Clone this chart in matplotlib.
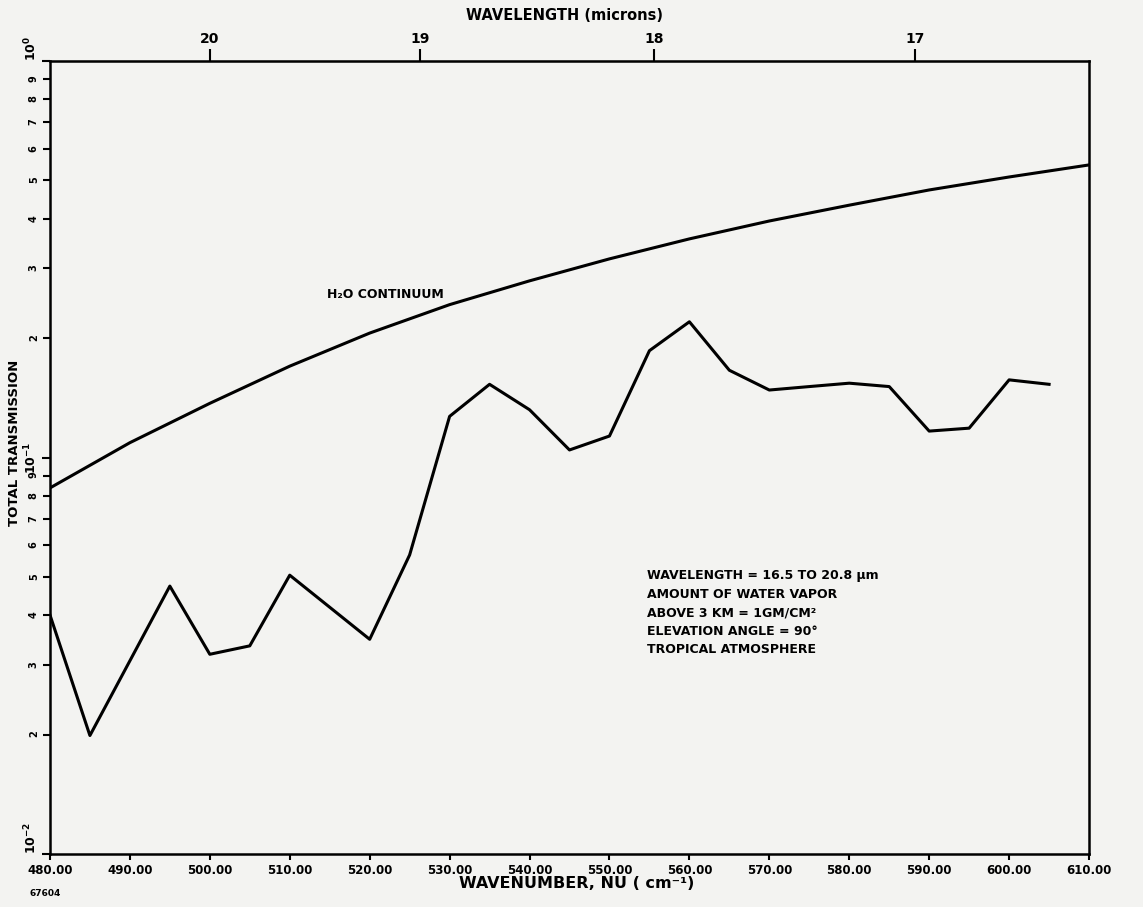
import matplotlib.pyplot as plt
import matplotlib.ticker as ticker
import numpy as np

# Total transmission along the path (wavenumber in cm-1)
nu_total = [480, 485, 495, 500, 505, 510, 520, 525, 530, 535, 540, 545,
            550, 555, 560, 565, 570, 575, 580, 585, 590, 595, 600, 605]
trans_total = [0.0401, 0.0199, 0.0474, 0.0319, 0.0335, 0.0505, 0.0348, 0.0568,
               0.127, 0.153, 0.132, 0.1045, 0.1133, 0.186, 0.220, 0.166,
               0.148, 0.151, 0.154, 0.151, 0.1166, 0.1186, 0.157, 0.153]

# H2O continuum transmission
nu_cont = [480, 490, 500, 510, 520, 530, 540, 550, 560, 570, 580, 590, 600, 610]
trans_cont = [0.0838, 0.109, 0.137, 0.170, 0.206, 0.243, 0.279, 0.317,
              0.356, 0.395, 0.433, 0.473, 0.510, 0.547]

wavelength_ticks = [20, 19, 18, 17]

info_lines = [
    "WAVELENGTH = 16.5 TO 20.8 \u03bcm",
    "AMOUNT OF WATER VAPOR",
    "ABOVE 3 KM = 1GM/CM\u00b2",
    "ELEVATION ANGLE = 90\u00b0",
    "TROPICAL ATMOSPHERE",
]

plt.rcParams['font.family'] = ['DejaVu Sans']
plt.rcParams['font.weight'] = 'bold'
paper = '#f3f3f1'

fig = plt.figure(figsize=(11.43, 9.07), dpi=100, facecolor=paper)
ax = fig.add_axes([0.0437, 0.0584, 0.9091, 0.8743])
ax.set_facecolor(paper)

ax.plot(nu_cont, trans_cont, color='black', linewidth=2.2)
ax.plot(nu_total, trans_total, color='black', linewidth=2.2)

ax.set_yscale('log')
ax.set_xlim(480, 610)
ax.set_ylim(1e-2, 1e0)

# bottom axis: wavenumber
ax.set_xticks(np.arange(480, 611, 10))
ax.xaxis.set_major_formatter(ticker.FormatStrFormatter('%.2f'))
ax.tick_params(axis='x', which='major', direction='out', length=4, width=1.5,
               pad=3, labelsize=8.5)

# left axis: log decades with digit labels on the minor ticks
ax.yaxis.set_major_locator(ticker.FixedLocator([1e-2, 1e-1, 1e0]))
ax.yaxis.set_minor_locator(ticker.LogLocator(base=10, subs=range(2, 10), numticks=10))

def decade_label(v, pos):
    return r'$\mathbf{10^{%d}}$' % int(round(np.log10(v)))

def digit_label(v, pos):
    d = v / 10 ** np.floor(np.log10(v) + 1e-9)
    return '%d' % int(round(d))

ax.yaxis.set_major_formatter(ticker.FuncFormatter(decade_label))
ax.yaxis.set_minor_formatter(ticker.FuncFormatter(digit_label))
ax.tick_params(axis='y', which='major', direction='out', length=6, width=1.5,
               pad=2, labelsize=9, labelrotation=90)
ax.tick_params(axis='y', which='minor', direction='out', length=5, width=1.5,
               pad=3, labelsize=7, labelrotation=90)

for side in ax.spines.values():
    side.set_linewidth(1.8)

# top axis: wavelength in microns
top = ax.secondary_xaxis('top', functions=(lambda x: 1e4 / x, lambda x: 1e4 / x))
top.set_xticks(wavelength_ticks)
top.xaxis.set_major_formatter(ticker.FormatStrFormatter('%d'))
top.xaxis.set_minor_locator(ticker.NullLocator())
top.tick_params(axis='x', direction='out', length=9, width=1.5, pad=2, labelsize=10)

# labels
fig.text(565 / 1143, 1 - 16 / 907, 'WAVELENGTH (microns)', ha='center', va='center',
         fontsize=10.5, fontweight='bold')
fig.text(577 / 1143, 1 - 884 / 907, 'WAVENUMBER, NU ( cm\u207b\u00b9)', ha='center',
         va='center', fontsize=11.5, fontweight='bold')
fig.text(15 / 1143, 1 - 443 / 907, 'TOTAL TRANSMISSION', ha='center', va='center',
         rotation=90, fontsize=9.5, fontweight='bold')
fig.text(45 / 1143, 1 - 894 / 907, '67604', ha='center', va='center',
         fontsize=6.5, fontweight='bold')

ax.text(514.7, 0.258, 'H\u2082O CONTINUUM', ha='left', va='center',
        fontsize=9, fontweight='bold')
ax.text(0.5746, 0.359, '\n'.join(info_lines), transform=ax.transAxes,
        ha='left', va='top', fontsize=9, fontweight='bold', linespacing=1.55)

# decade labels at the ends of the axis sit above their ticks
fig.canvas.draw()
for tick in ax.yaxis.get_major_ticks():
    loc = tick.get_loc()
    if np.isclose(loc, 1e-2) or np.isclose(loc, 1e0):
        tick.label1.set_verticalalignment('bottom')
    else:
        tick.label1.set_verticalalignment('center')

fig.savefig('out.png', dpi=100, facecolor=paper)
